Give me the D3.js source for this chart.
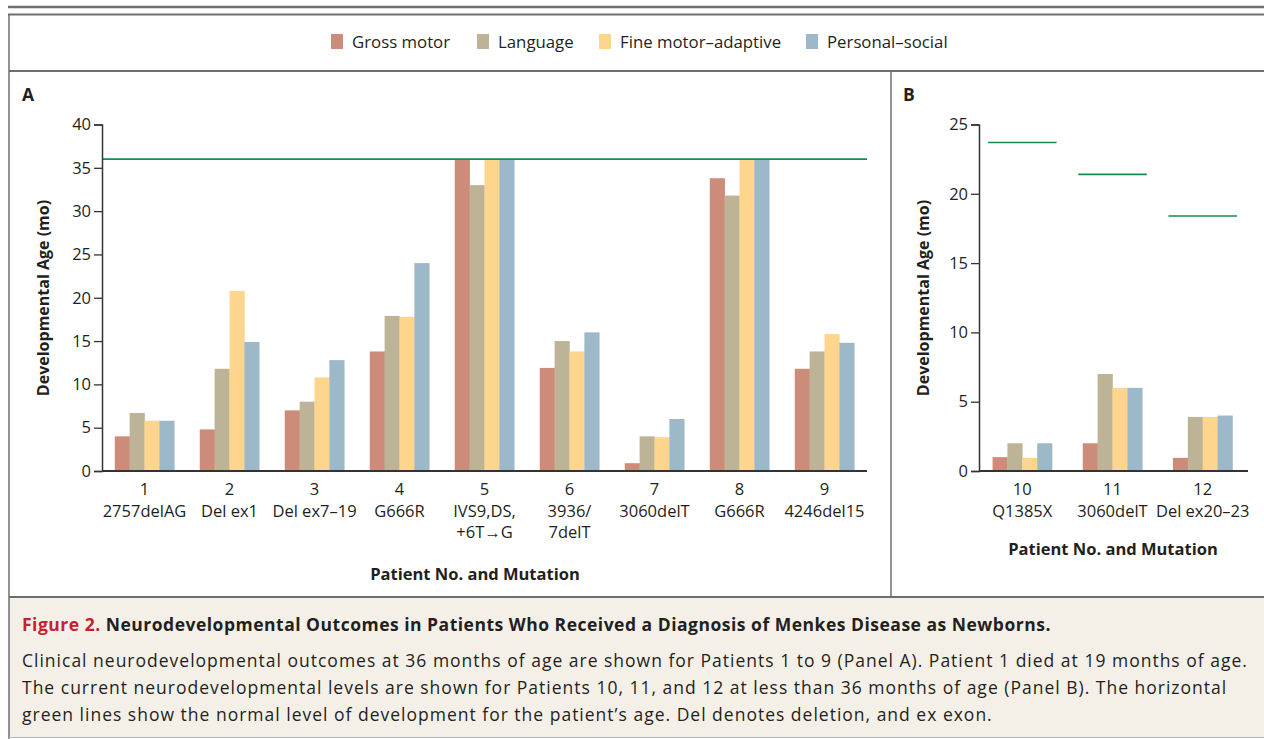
<!DOCTYPE html>
<html>
<head>
<meta charset="utf-8">
<script src="https://cdn.jsdelivr.net/npm/d3@7"></script>
<style>
  body { margin: 0; background: #fff; }
  svg text { font-family: "Open Sans", "Noto Sans", sans-serif; fill: #231f20; }
</style>
</head>
<body>
<svg id="fig" width="1264" height="739"></svg>
<script>
// series
var seriesNames = ["Gross motor", "Language", "Fine motor\u2013adaptive", "Personal\u2013social"];
var seriesColors = ["#cd8c79", "#bdb396", "#fdd58c", "#9db8c9"];

// panel A: patients 1-9, at 36 months
var patientsA = ["1", "2", "3", "4", "5", "6", "7", "8", "9"];
var mutationsA = [["2757delAG"], ["Del ex1"], ["Del ex7\u201319"], ["G666R"], ["IVS9,DS,", "+6T\u2192G"],
                  ["3936/", "7delT"], ["3060delT"], ["G666R"], ["4246del15"]];
var grossA    = [4, 4.8, 7, 13.8, 36, 11.9, 0.9, 33.8, 11.8];
var languageA = [6.7, 11.8, 8, 17.9, 33, 15, 4, 31.8, 13.8];
var fineA     = [5.8, 20.8, 10.8, 17.8, 36, 13.8, 3.9, 36, 15.8];
var personalA = [5.8, 14.9, 12.8, 24, 36, 16, 6, 36, 14.8];
var normA = 36;
var ticksA = [0, 5, 10, 15, 20, 25, 30, 35, 40];

// panel B: patients 10-12, current level
var patientsB = ["10", "11", "12"];
var mutationsB = [["Q1385X"], ["3060delT"], ["Del ex20\u201323"]];
var grossB    = [1, 2, 0.95];
var languageB = [2, 7, 3.9];
var fineB     = [0.95, 6, 3.9];
var personalB = [2, 6, 4];
var normB = [23.7, 21.4, 18.4];
var ticksB = [0, 5, 10, 15, 20, 25];

var svg = d3.select("#fig");
var frame = "#6d6e70";

// frame and separators
svg.append("rect").attr("x", 9).attr("y", 597).attr("width", 1264).attr("height", 140).attr("fill", "#f4f0e8");
svg.append("line").attr("x1", 8).attr("x2", 1264).attr("y1", 7).attr("y2", 7).attr("stroke", frame).attr("stroke-width", 2.5);
svg.append("line").attr("x1", 8).attr("x2", 1264).attr("y1", 14.5).attr("y2", 14.5).attr("stroke", frame).attr("stroke-width", 2);
svg.append("line").attr("x1", 9).attr("x2", 9).attr("y1", 14).attr("y2", 739).attr("stroke", frame).attr("stroke-width", 1.5);
svg.append("line").attr("x1", 9).attr("x2", 1264).attr("y1", 71).attr("y2", 71).attr("stroke", frame).attr("stroke-width", 2);
svg.append("line").attr("x1", 891).attr("x2", 891).attr("y1", 71).attr("y2", 597).attr("stroke", frame).attr("stroke-width", 1.5);
svg.append("line").attr("x1", 9).attr("x2", 1264).attr("y1", 597).attr("y2", 597).attr("stroke", frame).attr("stroke-width", 2);
svg.append("line").attr("x1", 9).attr("x2", 1264).attr("y1", 737.5).attr("y2", 737.5).attr("stroke", "#b9b9b9").attr("stroke-width", 1);

// legend
var legendX = [331, 477, 599, 806];
var legend = svg.append("g");
seriesNames.forEach(function(name, i) {
	legend.append("rect").attr("x", legendX[i]).attr("y", 34).attr("width", 12).attr("height", 15).attr("fill", seriesColors[i]);
	legend.append("text").attr("x", legendX[i] + 21).attr("y", 48).attr("font-size", 16.8).text(name);
});

function drawPanel(opts)
{
	var g = svg.append("g");
	var x = d3.scaleBand().domain(opts.patients).range(opts.xRange)
		.paddingInner(opts.padIn).paddingOuter(opts.padOut);
	var y = d3.scaleLinear().domain([0, opts.yMax]).range([471, opts.yTop]);
	var sub = d3.scaleBand().domain(d3.range(4)).range([0, x.bandwidth()]);
	var series = opts.series;

	opts.patients.forEach(function(p, i) {
		for (var s = 0; s < 4; s++) {
			g.append("rect")
				.attr("x", x(p) + sub(s))
				.attr("y", y(series[s][i]))
				.attr("width", sub.bandwidth() + 0.3)
				.attr("height", y(0) - y(series[s][i]))
				.attr("fill", seriesColors[s]);
		}
	});

	// normal level lines
	if (opts.normAll != null) {
		g.append("line").attr("x1", opts.xRange[0]).attr("x2", opts.xRange[1])
			.attr("y1", y(opts.normAll)).attr("y2", y(opts.normAll))
			.attr("stroke", "#168b4c").attr("stroke-width", 1.6);
	} else {
		opts.patients.forEach(function(p, i) {
			g.append("line").attr("x1", x(p) - 4.5).attr("x2", x(p) + x.bandwidth() + 4.5)
				.attr("y1", y(opts.norms[i])).attr("y2", y(opts.norms[i]))
				.attr("stroke", "#168b4c").attr("stroke-width", 1.6);
		});
	}

	// y axis
	var ya = g.append("g").attr("transform", "translate(" + opts.xRange[0] + ",0)")
		.call(d3.axisLeft(y).tickValues(opts.ticks).tickSize(8).tickPadding(3).tickFormat(d3.format("d")));
	ya.select(".domain").attr("stroke", "#333").attr("stroke-width", 1.5);
	ya.selectAll(".tick line").attr("stroke", "#333").attr("stroke-width", 1.3);
	ya.selectAll(".tick text").attr("font-size", 16.5).attr("font-family", null).attr("fill", "#231f20");

	// x axis
	var xa = g.append("g").attr("transform", "translate(0,471)")
		.call(d3.axisBottom(x).tickSize(0).tickFormat(""));
	xa.select(".domain").attr("stroke", "#333").attr("stroke-width", 1.8)
		.attr("d", "M" + opts.xRange[0] + ",0H" + opts.xEnd);
	opts.patients.forEach(function(p, i) {
		var cx = x(p) + x.bandwidth() / 2;
		var t = g.append("text").attr("text-anchor", "middle").attr("font-size", 16.5)
			.attr("x", cx).attr("y", 495);
		t.append("tspan").attr("x", cx).attr("dy", 0).text(p);
		opts.mutations[i].forEach(function(m) {
			t.append("tspan").attr("x", cx).attr("dy", 21.5).text(m);
		});
	});

	g.append("text").attr("text-anchor", "middle").attr("font-size", 16.5).attr("font-weight", "bold")
		.attr("x", opts.titleX).attr("y", opts.titleY).text("Patient No. and Mutation");
	g.append("text").attr("text-anchor", "middle").attr("font-size", 16).attr("font-weight", "bold")
		.attr("transform", "translate(" + opts.yTitleX + ",298) rotate(-90)")
		.text("Developmental Age (mo)");
	g.append("text").attr("font-size", 17.5).attr("font-weight", "bold")
		.attr("x", opts.letterX).attr("y", 101).text(opts.letter);
}

drawPanel({
	patients: patientsA, mutations: mutationsA,
	series: [grossA, languageA, fineA, personalA],
	xRange: [102, 867], xEnd: 867, padIn: 0.3, padOut: 0.15,
	yMax: 40, yTop: 124.5, ticks: ticksA, normAll: normA,
	titleX: 475, titleY: 580, yTitleX: 49, letter: "A", letterX: 22
});

drawPanel({
	patients: patientsB, mutations: mutationsB,
	series: [grossB, languageB, fineB, personalB],
	xRange: [979, 1246], xEnd: 1248, padIn: 0.34, padOut: 0.15,
	yMax: 25, yTop: 124.5, ticks: ticksB, norms: normB,
	titleX: 1113, titleY: 555, yTitleX: 929, letter: "B", letterX: 903
});

// caption
var cap = svg.append("g");
var head = cap.append("text").attr("x", 22).attr("y", 631).attr("font-size", 17.5)
	.attr("font-weight", "bold").attr("letter-spacing", 0.5);
head.append("tspan").attr("fill", "#c8202f").text("Figure 2. ");
head.append("tspan").text("Neurodevelopmental Outcomes in Patients Who Received a Diagnosis of Menkes Disease as Newborns.");
var captionLines = [
	"Clinical neurodevelopmental outcomes at 36 months of age are shown for Patients 1 to 9 (Panel A). Patient 1 died at 19 months of age.",
	"The current neurodevelopmental levels are shown for Patients 10, 11, and 12 at less than 36 months of age (Panel B). The horizontal",
	"green lines show the normal level of development for the patient\u2019s age. Del denotes deletion, and ex exon."
];
captionLines.forEach(function(line, i) {
	cap.append("text").attr("x", 22).attr("y", 667 + i * 27).attr("font-size", 17.5)
		.attr("letter-spacing", 1.0).text(line);
});
</script>
</body>
</html>
